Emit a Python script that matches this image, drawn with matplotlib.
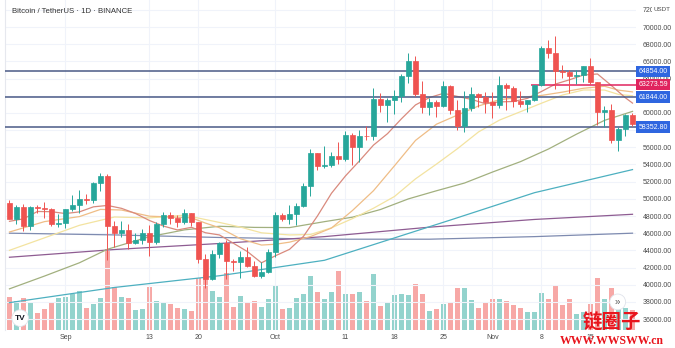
import numpy as np
import pandas as pd
import matplotlib
matplotlib.use("Agg")
import matplotlib.pyplot as plt
from matplotlib.transforms import blended_transform_factory

# Daily BTC/USDT candles, 24 Aug - 21 Nov 2021
open_ = [49540, 47700, 48990, 46850, 49070, 48900, 48800, 47020, 47150, 48850,
         49250, 49940, 49920, 51790, 52700, 46860, 46060, 46400, 44850, 45170,
         46030, 44960, 47100, 48120, 47750, 47300, 48300, 47260, 42990, 40700,
         43550, 44860, 42810, 42700, 43180, 42170, 41030, 41520, 43790, 48140,
         47630, 48200, 49220, 51470, 55320, 53790, 53950, 54960, 54660, 57470,
         56000, 57370, 57350, 61670, 60880, 61530, 62010, 64280, 66000, 62190,
         60690, 61290, 60850, 63080, 60330, 58460, 60590, 62250, 61860, 61300,
         60910, 63220, 62930, 61400, 61000, 61530, 63270, 67530, 66940, 64880,
         64800, 64270, 64400, 65500, 63620, 60110, 60360, 56900, 58100, 59700]
high = [49870, 49300, 49350, 49150, 49300, 49650, 48900, 48250, 48850, 50400,
        51050, 50560, 51900, 52950, 52920, 47400, 47400, 47050, 45990, 46460,
        46900, 47250, 48490, 48500, 48160, 48820, 48370, 47330, 43630, 44000,
        44980, 45200, 42970, 43950, 44350, 42790, 42600, 44130, 48500, 48350,
        49230, 49530, 51890, 55750, 55330, 56100, 55500, 56560, 57840, 57680,
        58000, 58530, 62930, 62350, 61720, 62700, 64490, 67000, 66640, 63730,
        61750, 61490, 63730, 63290, 61500, 62500, 62980, 62360, 62400, 62430,
        64270, 63500, 63100, 62600, 61560, 63300, 67800, 68530, 69000, 65600,
        65000, 64970, 65500, 66400, 63620, 60800, 60980, 58370, 59850, 60000]
low = [47600, 47100, 46300, 46370, 48370, 47800, 46850, 46700, 46600, 48600,
       48370, 49450, 49500, 50950, 42850, 44400, 45500, 44150, 44730, 44740,
       43370, 44750, 46700, 47020, 46750, 47050, 46850, 42500, 39600, 40570,
       43100, 40680, 41650, 40800, 42100, 40900, 40750, 41400, 43280, 47430,
       47120, 46900, 49060, 50380, 53350, 53620, 53660, 54090, 54420, 53880,
       54300, 56800, 56850, 60150, 58960, 59850, 61320, 63480, 62000, 60000,
       59700, 59530, 60650, 59820, 58000, 57820, 60170, 60720, 59940, 59400,
       60620, 60380, 60700, 60720, 60080, 61350, 63090, 66380, 62820, 64100,
       62280, 63400, 63580, 63400, 58580, 58370, 56470, 55600, 57350, 58450]
close = [47700, 48990, 46850, 49070, 48900, 48800, 47020, 47150, 48850, 49250,
         49940, 49920, 51790, 52700, 46860, 46070, 46400, 44850, 45170, 46030,
         44960, 47100, 48120, 47750, 47300, 48300, 47260, 42990, 40700, 43550,
         44860, 42810, 42700, 43180, 42170, 41030, 41520, 43790, 48140, 47630,
         48200, 49220, 51470, 55320, 53790, 53950, 54960, 54660, 57470, 56000,
         57370, 57350, 61670, 60880, 61530, 62010, 64280, 66000, 62190, 60690,
         61290, 60850, 63080, 60330, 58460, 60590, 62250, 61860, 61300, 60910,
         63220, 62930, 61400, 61000, 61530, 63270, 67530, 66940, 64880, 64800,
         64270, 64400, 65500, 63620, 60110, 60360, 56900, 58100, 59700, 58700]
# volume, thousand BTC
volume = [50, 44, 48, 42, 26, 32, 40, 48, 50, 54, 58, 33, 39, 48, 122, 64,
          50, 48, 30, 32, 64, 44, 42, 39, 33, 32, 28, 78, 82, 58, 50, 86,
          34, 51, 40, 44, 34, 46, 66, 32, 33, 48, 54, 81, 57, 46, 57, 88,
          54, 54, 57, 44, 84, 36, 40, 52, 54, 52, 69, 54, 28, 32, 39, 42,
          63, 63, 45, 33, 40, 46, 46, 44, 38, 33, 27, 27, 56, 46, 66, 38,
          46, 24, 27, 39, 78, 46, 63, 38, 33, 30]

dates = pd.date_range("2021-08-24", periods=len(close), freq="D")

# simple moving averages (day index -> value)
sma10_days = list(range(0, 89, 2)) + [89]
sma10 = [47382, 47670, 48528, 48500, 48285, 48482, 49069, 49228, 48893, 48295,
         47475, 46826, 46375, 46684, 46051, 45793, 44822, 43852, 42551, 43375,
         44117, 45635, 48011, 50647, 52667, 54421, 56254, 57584, 59322, 60928,
         61789, 62280, 61918, 61573, 61070, 61285, 61325, 61699, 62495, 63361,
         63855, 64412, 64532, 63178, 61752, 61142]
sma20_days = [0, 5, 10, 13, 16, 20, 23, 26, 28, 30, 33, 36, 38, 40, 43, 46, 49,
              52, 55, 58, 61, 64, 67, 70, 73, 76, 79, 82, 85, 87, 89]
sma20 = [46138, 47347, 47932, 48770, 48697, 47979, 47882, 47789, 47173, 46634,
         45348, 44618, 44713, 44955, 45607, 46599, 48644, 50945, 53847, 56798,
         58687, 59751, 60808, 61537, 61809, 62034, 62421, 62869, 63104, 62649, 62446]
sma30_days = [0, 5, 10, 15, 20, 25, 30, 33, 36, 40, 43, 46, 49, 52, 55, 58, 61,
              64, 67, 70, 73, 76, 79, 82, 85, 87, 89]
sma30 = [44004, 45458, 46919, 47883, 47780, 48095, 47250, 46709, 46043, 45795,
         45848, 46627, 47697, 48904, 50273, 52323, 54044, 55838, 57783, 59165,
         60142, 61130, 62080, 62672, 62661, 62152, 61995]
sma50_days = [0, 5, 10, 14, 20, 25, 30, 35, 40, 45, 49, 53, 57, 61, 65, 69, 73,
              77, 81, 85, 89]
sma50 = [39522, 41009, 42558, 44132, 45594, 46386, 46805, 46674, 46650, 47343,
         47864, 48757, 49996, 50938, 51838, 53116, 54328, 55797, 57525, 59135, 60177]
sma100_days = [0, 15, 30, 45, 63, 75, 89]
sma100 = [37916, 39684, 41047, 42846, 47535, 50714, 53402]
sma150_days = [0, 15, 30, 45, 60, 75, 89]
sma150 = [43200, 44100, 44800, 45600, 46700, 47600, 48200]
sma200_days = [0, 15, 30, 45, 60, 75, 89]
sma200 = [46000, 45800, 45500, 45300, 45300, 45600, 46000]

levels = [64854.00, 61844.00, 58352.80]
last_price = 63273.59
last_price_from = "2021-11-07"

tick_dates = ["2021-09-01", "2021-09-13", "2021-09-20", "2021-10-01", "2021-10-11",
              "2021-10-18", "2021-10-25", "2021-11-01", "2021-11-08", "2021-11-15"]
tick_labels = ["Sep", "13", "20", "Oct", "11", "18", "25", "Nov", "8", "15"]
price_ticks = np.arange(36000, 72001, 2000)

UP = "#26a69a"
DOWN = "#ef5350"

plt.rcParams["font.family"] = ["Liberation Sans", "DejaVu Sans"]

fig = plt.figure(figsize=(6.75, 3.48), dpi=100, facecolor="white")
rect = [5 / 675, 18 / 348, 631 / 675, 330 / 348]
ax = fig.add_axes(rect)
vax = fig.add_axes(rect, sharex=ax)
ax.set_zorder(2)
vax.set_zorder(1)
ax.patch.set_visible(False)

x = np.arange(len(close))
o = np.array(open_)
c = np.array(close)
up = c >= o

# volume pane
vol_colors = np.where(up, "#93d3cd", "#f7a8a6")
vax.bar(x, volume, width=0.82, color=vol_colors, linewidth=0)
vax.set_ylim(0, 495)
vax.axis("off")

# grid
for d in tick_dates:
    ax.axvline(dates.get_loc(pd.Timestamp(d)), color="#f0f3fa", lw=0.8, zorder=0)
for p in price_ticks:
    ax.axhline(p, color="#f0f3fa", lw=0.8, zorder=0)

# moving averages
ma_styles = [
    (sma200_days, sma200, "#7e8bb0"),
    (sma150_days, sma150, "#8e5c92"),
    (sma100_days, sma100, "#4db0c0"),
    (sma50_days, sma50, "#a2b07f"),
    (sma30_days, sma30, "#f3e3a0"),
    (sma20_days, sma20, "#efbd86"),
    (sma10_days, sma10, "#d98a7d"),
]
for days, vals, col in ma_styles:
    ax.plot(days, vals, color=col, lw=0.9, zorder=2)

# horizontal levels
for lv in levels:
    ax.axhline(lv, color="#4a5a86", lw=1.1, zorder=3)
ax.hlines(last_price, dates.get_loc(pd.Timestamp(last_price_from)) - 0.5, x[-1] + 1,
          color="#e0245e", lw=1.1, zorder=3)

# candles
colors = np.where(up, UP, DOWN)
ax.vlines(x, low, high, color=colors, lw=0.7, zorder=4)
ax.bar(x, np.abs(c - o), bottom=np.minimum(o, c), width=0.72, color=colors,
       edgecolor=colors, linewidth=0.5, zorder=5)

ax.set_xlim(-0.64, 89.5)
ax.set_ylim(34731, 73143)

# scale labels sitting under a level tag are left blank
hidden = {62000, 58000}
ax.yaxis.tick_right()
ax.set_yticks(price_ticks)
ax.set_yticklabels(["" if p in hidden else f"{p:.2f}" for p in price_ticks])
ax.tick_params(axis="y", length=0, pad=5, labelsize=5, labelcolor="#4a4a4a")
ax.set_xticks([dates.get_loc(pd.Timestamp(d)) for d in tick_dates])
ax.set_xticklabels(tick_labels)
ax.tick_params(axis="x", length=0, pad=3, labelsize=5, labelcolor="#4a4a4a")
for s in ax.spines.values():
    s.set_visible(False)
ax.spines["left"].set_visible(True)
ax.spines["left"].set_color("#e6e8ee")

# price labels on the scale
tr = blended_transform_factory(ax.transAxes, ax.transData)
for lv in levels:
    ax.text(1.004, lv, f"{lv:.2f}", transform=tr, ha="left", va="center",
            fontsize=5, color="white", zorder=10, clip_on=False,
            bbox=dict(boxstyle="square,pad=0.3", fc="#2f66e0", ec="none"))
ax.text(1.004, last_price, f"{last_price:.2f}", transform=tr, ha="left", va="center",
        fontsize=5, color="white", zorder=10, clip_on=False,
        bbox=dict(boxstyle="square,pad=0.3", fc="#e0245e", ec="none"))
ax.text(1.027, 72000, "USDT", transform=tr, ha="left", va="center", fontsize=4.5,
        color="#4a4a4a", zorder=10, clip_on=False,
        bbox=dict(boxstyle="square,pad=0.2", fc="white", ec="none"))

ax.text(0.011, 0.964, "Bitcoin / TetherUS · 1D · BINANCE", transform=ax.transAxes,
        ha="left", va="center", fontsize=5.6, color="#333333", zorder=10)

# logo and scroll button
ax.text(0.024, 0.036, "TV", transform=ax.transAxes, ha="center", va="center",
        fontsize=6, fontweight="bold", color="#131722", zorder=10,
        bbox=dict(boxstyle="circle,pad=0.35", fc="white", ec="#e0e3eb", lw=0.6))
ax.text(0.971, 0.085, "»", transform=ax.transAxes, ha="center", va="center",
        fontsize=7, color="#555555", zorder=10,
        bbox=dict(boxstyle="circle,pad=0.3", fc="white", ec="#e0e3eb", lw=0.6))

# site watermark
fig.text(612 / 675, 1 - 323 / 348, "链圈子", ha="center", va="center", fontsize=14,
         fontweight="bold", color="#e8141c", family=["Noto Sans CJK SC", "DejaVu Sans"],
         zorder=20)
fig.text(612 / 675, 1 - 341 / 348, "WWW.WWSWW.cn", ha="center", va="center",
         fontsize=8.5, fontweight="bold", color="#e8141c", family="Liberation Serif",
         zorder=20)

fig.savefig("out.png", dpi=100, facecolor="white")
